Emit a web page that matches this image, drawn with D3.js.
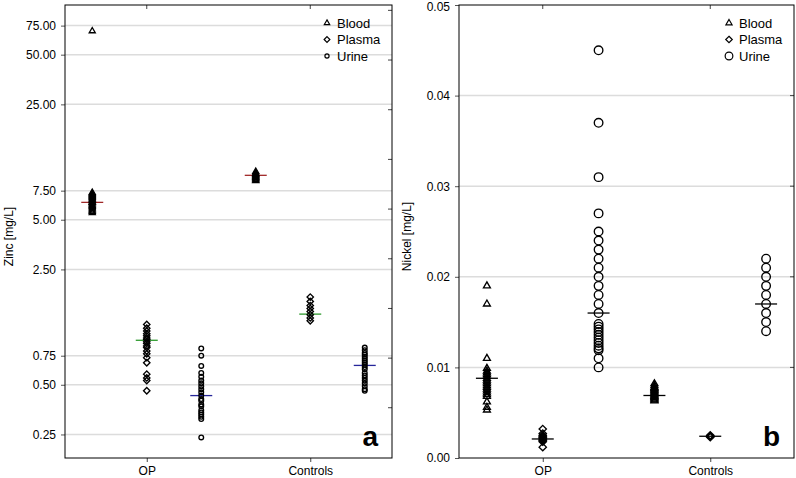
<!DOCTYPE html>
<html><head><meta charset="utf-8">
<script src="https://cdn.jsdelivr.net/npm/d3@7"></script>
<style>
body{margin:0;background:#fff;}
svg{display:block;font-family:"Liberation Sans",Arial,sans-serif;}
</style></head><body>
<svg id="c" width="796" height="478"></svg>
<script>
// ---------- DATA ----------
const groups = ["OP", "Controls"];
const fluids = ["Blood", "Plasma", "Urine"];

// Zinc [mg/L]
const zincOPBlood = [5.5,5.6,5.7,5.8,5.9,6.0,6.1,6.2,6.3,6.35,6.4,6.5,6.6,6.7,6.8,6.9,7.0,7.1,7.2,7.3,69.6];
const zincOPPlasma = [1.16,1.10,1.06,1.02,0.99,0.96,0.94,0.91,0.89,0.86,0.84,0.80,0.77,0.73,0.68,0.58,0.55,0.53,0.46];
const zincOPUrine = [0.83,0.75,0.65,0.59,0.56,0.53,0.51,0.49,0.47,0.45,0.43,0.41,0.40,0.38,0.37,0.35,0.34,0.33,0.32,0.31,0.24];
const zincCtrlBlood = [8.6,8.7,8.8,8.9,9.0,9.1,9.2,9.3,9.4,9.5,9.6,9.8];
const zincCtrlPlasma = [1.70,1.60,1.51,1.45,1.39,1.33,1.27,1.22];
const zincCtrlUrine = [0.84,0.81,0.78,0.76,0.74,0.72,0.70,0.68,0.66,0.64,0.62,0.59,0.57,0.55,0.53,0.51,0.49,0.47,0.46];
const zincMedians = [6.37, 0.93, 0.43, 9.29, 1.34, 0.655];
const zincTicks = [0.25,0.5,0.75,2.5,5,7.5,25,50,75];
const zincRightTicks = [0.363,0.725,1.45,2.9,5.8,11.6,23.2,46.4,92.8];

// Nickel [mg/L]
const niOPBlood = [0.0190,0.0170,0.0110,0.0099,0.0096,0.0094,0.0092,0.0090,0.0088,0.0086,0.0084,0.0082,0.0080,0.0078,0.0076,0.0074,0.0072,0.0070,0.0068,0.0062,0.0056,0.0053];
const niOPPlasma = [0.0032,0.0027,0.0025,0.0024,0.0023,0.0022,0.0021,0.0020,0.0019,0.0018,0.0012];
const niOPUrine = [0.045,0.037,0.031,0.027,0.025,0.024,0.023,0.022,0.021,0.020,0.019,0.018,0.017,0.016,0.0148,0.0145,0.0142,0.0139,0.0136,0.0133,0.0130,0.0127,0.0124,0.0121,0.0119,0.0110,0.0100];
const niCtrlBlood = [0.0063,0.0064,0.0065,0.0066,0.0067,0.0068,0.0069,0.0070,0.0071,0.0072,0.0073,0.0074,0.0075,0.0076,0.0077,0.0078,0.0080,0.0082];
const niCtrlPlasma = [0.0023,0.0024,0.0024,0.0025];
const niCtrlUrine = [0.022,0.021,0.020,0.019,0.018,0.017,0.016,0.015,0.014];
const niMedians = [0.0088, 0.0021, 0.0160, 0.0069, 0.0024, 0.0170];
const niTicks = [0.00,0.01,0.02,0.03,0.04,0.05];

// ---------- DRAW ----------
const svg = d3.select("#c");
const font = "'Liberation Sans', Arial, sans-serif";
const keys = [];
groups.forEach(g => fluids.forEach(f => keys.push(g + "|" + f)));

const triSym = d3.symbolTriangle2 || d3.symbolTriangle;
const diaSym = d3.symbolDiamond2 || d3.symbolSquare;
const cirSym = d3.symbolCircle;

function panel(opt) {
  const {x0, x1, y0, y1, yScale, series, medians, medianColors, ticks, tickFmt, rightTicks, title, letter, legendX, sizes, titleX} = opt;
  const g = svg.append("g");
  const x = d3.scalePoint().domain(keys).range([x0, x1]).padding(0.5);
  const xg = d3.scalePoint().domain(groups).range([x0, x1]).padding(0.5);

  // gridlines
  g.selectAll(".grid").data(ticks.filter(t => yScale(t) > y0 + 2 && yScale(t) < y1 - 2)).enter()
    .append("line").attr("x1", x0).attr("x2", x1)
    .attr("y1", d => yScale(d)).attr("y2", d => yScale(d))
    .attr("stroke", "#dcdcdc").attr("stroke-width", 1.5);

  // left axis
  const ya = g.append("g").attr("transform", `translate(${x0},0)`)
    .call(d3.axisLeft(yScale).tickValues(ticks).tickFormat(tickFmt).tickSize(4).tickPadding(5));
  ya.select(".domain").remove();
  ya.selectAll(".tick line").attr("stroke", "#555");
  ya.selectAll(".tick text").attr("font-family", font).attr("font-size", 12).attr("fill", "#000")
    .attr("y", d => (yScale(d) < y0 + 4 ? 2 : 0));

  // right inner ticks
  const rt = rightTicks || ticks;
  g.selectAll(".rt").data(rt.filter(t => yScale(t) > y0 + 1 && yScale(t) < y1 - 1)).enter()
    .append("line").attr("x1", x1 - 4).attr("x2", x1)
    .attr("y1", d => yScale(d)).attr("y2", d => yScale(d)).attr("stroke", "#444");

  // bottom axis
  const xa = g.append("g").attr("transform", `translate(0,${y1})`)
    .call(d3.axisBottom(xg).tickSize(4).tickPadding(4));
  xa.select(".domain").remove();
  xa.selectAll(".tick line").attr("stroke", "#444");
  xa.selectAll(".tick text").attr("font-family", font).attr("font-size", 12).attr("fill", "#000");
  // top inner ticks
  g.selectAll(".tt").data(groups).enter().append("line")
    .attr("x1", d => xg(d)).attr("x2", d => xg(d)).attr("y1", y0).attr("y2", y0 + 4).attr("stroke", "#444");

  // frame
  g.append("rect").attr("x", x0).attr("y", y0).attr("width", x1 - x0).attr("height", y1 - y0)
    .attr("fill", "none").attr("stroke", "#000").attr("stroke-width", 1);

  // median lines
  keys.forEach((k, i) => {
    g.append("line").attr("x1", x(k) - 11).attr("x2", x(k) + 11)
      .attr("y1", yScale(medians[i])).attr("y2", yScale(medians[i]))
      .attr("stroke", medianColors[i % 3]).attr("stroke-width", 1.3);
  });

  // points
  const syms = [triSym, diaSym, cirSym];
  keys.forEach((k, i) => {
    const fi = i % 3;
    const path = d3.symbol().type(syms[fi]).size(sizes[fi])();
    g.selectAll(null).data(series[i]).enter().append("path")
      .attr("d", path)
      .attr("transform", d => `translate(${x(k)},${yScale(d)})`)
      .attr("fill", "none").attr("stroke", "#000").attr("stroke-width", 1.35);
  });

  // legend
  fluids.forEach((f, i) => {
    const ly = 23 + i * 16.5;
    g.append("path").attr("d", d3.symbol().type(syms[i]).size(sizes[i] * 0.8)())
      .attr("transform", `translate(${legendX},${ly})`)
      .attr("fill", "none").attr("stroke", "#000").attr("stroke-width", 1.2);
    g.append("text").attr("x", legendX + 10).attr("y", ly).attr("dy", "0.36em")
      .attr("font-family", font).attr("font-size", 13).text(f);
  });

  // y title
  g.append("text").attr("transform", `translate(${titleX},${(y0 + y1) / 2 + 5}) rotate(-90)`)
    .attr("text-anchor", "middle").attr("dy", "0.35em")
    .attr("font-family", font).attr("font-size", 12).text(title);

  // panel letter
  g.append("text").attr("x", x1 - 14).attr("y", y1 - 12).attr("text-anchor", "end")
    .attr("font-family", font).attr("font-size", 28).attr("font-weight", "bold").text(letter);
}

const yZ = d3.scaleLog().domain([0.18, 100]).range([458, 5]);
panel({
  x0: 65, x1: 392, y0: 5, y1: 458, yScale: yZ,
  series: [zincOPBlood, zincOPPlasma, zincOPUrine, zincCtrlBlood, zincCtrlPlasma, zincCtrlUrine],
  medians: zincMedians, medianColors: ["#a02828", "#2e9a2e", "#26269a"],
  ticks: zincTicks, tickFmt: d3.format(".2f"), rightTicks: zincRightTicks,
  title: "Zinc [mg/L]", letter: "a", legendX: 327, sizes: [26, 26, 17], titleX: 9
});

const yN = d3.scaleLinear().domain([0, 0.05]).range([458, 5]);
panel({
  x0: 459, x1: 794, y0: 5, y1: 458, yScale: yN,
  series: [niOPBlood, niOPPlasma, niOPUrine, niCtrlBlood, niCtrlPlasma, niCtrlUrine],
  medians: niMedians, medianColors: ["#000", "#000", "#000"],
  ticks: niTicks, tickFmt: d3.format(".2f"), rightTicks: null,
  title: "Nickel [mg/L]", letter: "b", legendX: 729, sizes: [34, 34, 58], titleX: 407
});
</script>
</body></html>
